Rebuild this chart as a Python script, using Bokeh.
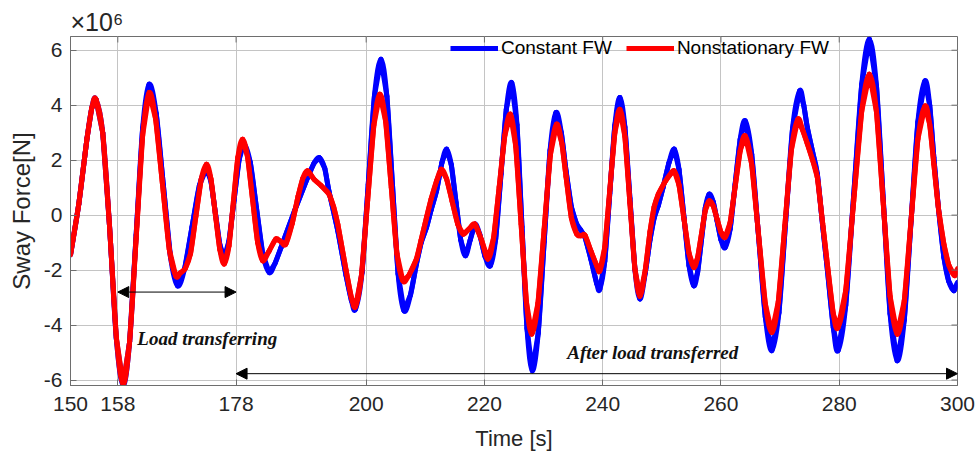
import numpy as np
from bokeh.plotting import figure
from bokeh.models import (ColumnDataSource, FixedTicker, Label, Arrow, NormalHead, Range1d)
from bokeh.embed import file_html
from bokeh.resources import INLINE

# ---- data (force in units of 1e6 N) ----
t_const = [150, 151.4, 152.8, 153.6, 154.3, 155.45, 156.6, 157.75, 158.9, 160.0, 161.1, 162.2,
           163.3, 164.5, 165.7, 166.9, 168.1, 169.3, 170.55, 171.8, 173.0, 173.75, 174.5, 175.25,
           176.0, 176.8, 177.65, 178.5, 179.3, 180.4, 181.45, 182.5, 183.6, 184.6, 185.6, 187.9,
           190.1, 191.2, 192.1, 193.0, 193.7, 195.2, 196.6, 197.5, 198.2, 199.3, 200.35, 201.4,
           202.5, 203.5, 204.45, 205.4, 206.4, 207.5, 208.5, 209.3, 210.2, 211.0, 211.9, 212.8,
           213.6, 214.4, 215.2, 216.0, 216.8, 217.6, 218.4, 219.2, 220.1, 221.0, 221.9, 222.8,
           223.7, 224.6, 225.5, 226.35, 227.2, 228.1, 229.1, 230.1, 231.1, 232.1, 233.0, 233.8,
           234.7, 235.6, 236.3, 237.0, 238.0, 239.0, 239.5, 240.35, 241.2, 242.05, 242.9, 243.75,
           244.6, 245.45, 246.3, 247.2, 248.0, 248.7, 249.4, 250.2, 251.2, 252.1, 252.9, 253.75,
           254.6, 255.4, 256.05, 256.7, 257.35, 258.0, 258.7, 259.35, 260.0, 260.7, 261.55, 262.4,
           263.25, 264.1, 265.2, 266.35, 267.5, 268.6, 269.8, 270.95, 272.1, 273.3, 274.0, 274.6,
           275.5, 276.3, 277.2, 278.0, 279.0, 279.8, 281.1, 282.45, 283.8, 285.1, 286.3, 287.45,
           288.6, 289.8, 291.0, 292.15, 293.3, 294.5, 295.3, 296.0, 296.8, 297.7, 298.5, 299.4,
           300.0]
f_const = [-1.45, 0.4, 2.8, 3.9, 4.22, 3.0, -0.4, -4.5, -6.2, -4.6, -0.72, 3.16,
           4.76, 3.69, 1.1, -1.5, -2.57, -1.95, -0.43, 1.08, 1.7, 1.23, 0.08, -1.07,
           -1.54, -0.94, 0.53, 2.0, 2.6, 1.92, 0.26, -1.4, -2.09, -1.75, -1.18, 0.16,
           1.37, 1.9, 2.09, 1.7, 0.88, -0.57, -2.2, -3.1, -3.42, -2.09, 1.12, 4.34,
           5.67, 4.33, 1.1, -2.14, -3.48, -2.9, -1.78, -1.0, -0.45, 0.2, 0.88, 1.9,
           2.4, 1.83, 0.46, -0.91, -1.48, -0.9, -0.33, -0.7, -1.5, -1.84, -0.87, 1.49,
           3.85, 4.82, 3.29, -0.42, -4.13, -5.66, -4.29, -0.97, 2.36, 3.73, 3.0, 1.61,
           0.3, -0.33, -0.55, -0.8, -1.6, -2.5, -2.7, -1.68, 0.79, 3.26, 4.28, 3.21,
           0.62, -1.98, -3.05, -2.1, -0.9, -0.1, 0.35, 1.0, 1.9, 2.4, 1.67, -0.09,
           -1.84, -2.57, -2.08, -0.9, 0.27, 0.76, 0.48, -0.21, -0.9, -1.18, -0.51, 1.13,
           2.76, 3.43, 2.21, -0.75, -3.71, -4.93, -3.55, -0.2, 3.14, 4.52, 4.0, 3.19,
           2.3, 1.5, -0.4, -2.0, -4.1, -4.93, -3.28, 0.74, 4.75, 6.4, 4.69, 0.55,
           -3.59, -5.3, -3.81, -0.21, 3.39, 4.88, 4.0, 2.1, 0.2, -1.54, -2.4, -2.75,
           -2.45]

t_nonst = [150, 151.4, 152.8, 153.6, 154.3, 155.45, 156.6, 157.75, 158.9, 160.0, 161.1, 162.2,
           163.3, 164.4, 165.55, 166.7, 167.8, 168.6, 169.4, 170.3, 171.2, 172.1, 173.0, 173.75,
           174.5, 175.25, 176.0, 176.8, 177.55, 178.3, 179.1, 179.95, 180.8, 181.65, 182.5, 183.6,
           184.7, 185.5, 186.4, 187.5, 188.5, 189.3, 190.1, 191.2, 192.4, 193.7, 194.5, 195.2,
           196.6, 197.5, 198.2, 199.2, 200.25, 201.3, 202.3, 203.3, 204.25, 205.2, 206.2, 207.2,
           208.5, 209.3, 210.2, 211.0, 211.9, 212.7, 213.6, 214.55, 215.5, 216.4, 217.4, 218.4,
           219.5, 220.6, 221.55, 222.5, 223.45, 224.4, 225.3, 226.2, 227.1, 228.0, 229.05, 230.1,
           231.15, 232.2, 233.1, 233.8, 234.7, 235.6, 236.3, 237.0, 238.0, 239.0, 239.5, 240.35,
           241.2, 242.05, 242.9, 243.75, 244.6, 245.45, 246.3, 247.2, 248.0, 248.7, 249.4, 250.5,
           251.3, 252.1, 252.9, 253.75, 254.6, 255.4, 256.05, 256.7, 257.35, 258.0, 258.7, 259.35,
           260.0, 260.7, 261.55, 262.4, 263.25, 264.1, 265.2, 266.35, 267.5, 268.6, 269.7, 270.8,
           271.9, 273.0, 273.8, 274.6, 275.5, 276.3, 277.2, 278.0, 279.0, 279.8, 281.1, 282.45,
           283.8, 285.1, 286.3, 287.45, 288.6, 289.8, 291.0, 292.15, 293.3, 294.5, 295.3, 296.0,
           296.8, 297.7, 298.5, 299.5, 300.0]
f_nonst = [-1.45, 0.4, 2.8, 3.9, 4.22, 3.0, -0.4, -4.45, -6.15, -4.6, -0.85, 2.9,
           4.46, 3.49, 1.13, -1.24, -2.21, -2.1, -1.95, -1.4, -0.05, 1.3, 1.85, 1.32,
           0.03, -1.25, -1.78, -1.12, 0.49, 2.1, 2.76, 2.11, 0.55, -1.0, -1.66, -1.3,
           -0.87, -0.95, -1.06, -0.3, 0.7, 1.35, 1.61, 1.3, 1.07, 0.77, 0.3, -0.33,
           -2.0, -3.0, -3.33, -2.2, 0.53, 3.27, 4.4, 3.41, 1.0, -1.4, -2.39, -2.2,
           -1.6, -0.9, -0.09, 0.6, 1.24, 1.67, 1.32, 0.49, -0.34, -0.69, -0.5, -0.33,
           -0.9, -1.6, -0.83, 1.03, 2.9, 3.67, 2.5, -0.33, -3.16, -4.33, -3.21, -0.51,
           2.19, 3.31, 2.6, 1.4, -0.1, -0.69, -0.75, -0.73, -1.3, -1.85, -2.03, -1.17,
           0.91, 2.99, 3.85, 2.86, 0.45, -1.96, -2.95, -2.0, -0.6, 0.3, 0.76, 1.2,
           1.45, 1.61, 1.1, -0.15, -1.39, -1.9, -1.55, -0.69, 0.17, 0.52, 0.33, -0.15,
           -0.62, -0.81, -0.27, 1.04, 2.34, 2.88, 1.84, -0.7, -3.23, -4.27, -3.14, -0.39,
           2.36, 3.49, 3.1, 2.6, 2.0, 1.37, -0.3, -1.8, -3.6, -4.09, -2.74, 0.52,
           3.78, 5.13, 3.75, 0.4, -2.95, -4.33, -3.12, -0.18, 2.76, 3.97, 3.3, 1.85,
           0.2, -1.06, -1.8, -2.2, -1.95]

x_ticks = [150, 158, 178, 200, 220, 240, 260, 280, 300]
y_ticks = [-6, -4, -2, 0, 2, 4, 6]
series_names = ["Constant FW", "Nonstationary FW"]
series_colors = ["#0000ff", "#ff0000"]
annotation_texts = ["Load transferring", "After load transferred"]

X0, X1 = 150, 300
Y0, Y1 = -6.2, 6.5

FONT = "Liberation Sans"
TXT = "#262626"
FRAME = "#6e6e6e"


def smooth_segments(t, f):
    """Catmull-Rom drawing: each pair of read points is joined by a cubic Bezier
    that passes through both read points (rendering only, no new data points)."""
    t = np.asarray(t, float)
    f = np.asarray(f, float)
    tp = np.concatenate([[t[0]], t, [t[-1]]])
    fp = np.concatenate([[f[0]], f, [f[-1]]])
    i = np.arange(len(t) - 1) + 1
    return dict(
        x0=tp[i], y0=fp[i], x1=tp[i + 1], y1=fp[i + 1],
        cx0=tp[i] + (tp[i + 1] - tp[i - 1]) / 6, cy0=fp[i] + (fp[i + 1] - fp[i - 1]) / 6,
        cx1=tp[i + 1] - (tp[i + 2] - tp[i]) / 6, cy1=fp[i + 1] - (fp[i + 2] - fp[i]) / 6,
    )


p = figure(width=978, height=459, output_backend="svg", toolbar_location=None,
           x_range=Range1d(X0, X1), y_range=Range1d(Y0, Y1),
           min_border_left=70, min_border_right=21, min_border_top=36, min_border_bottom=74)
p.background_fill_color = "white"
p.border_fill_color = "white"
p.outline_line_color = FRAME
p.outline_line_width = 1

# multiplier shown as title (x10^6)
p.title.text = "\u00d710\u2076"
p.title.text_font = FONT
p.title.text_font_size = "25px"
p.title.text_font_style = "normal"
p.title.text_color = TXT
p.title.align = "left"
p.title.standoff = 2

# grids
p.xgrid.ticker = FixedTicker(ticks=x_ticks)
p.ygrid.ticker = FixedTicker(ticks=y_ticks)
for g in (p.xgrid[0], p.ygrid[0]):
    g.grid_line_color = "#c4c4c4"
    g.grid_line_width = 1

# series: read points joined by a line (also gives the legend sample),
# overdrawn by the smooth curve through the same points
for t, f, name, col in ((t_const, f_const, series_names[0], series_colors[0]),
                        (t_nonst, f_nonst, series_names[1], series_colors[1])):
    p.line(t, f, line_color=col, line_width=5, line_join="round", legend_label=name)
    p.bezier(x0="x0", y0="y0", x1="x1", y1="y1", cx0="cx0", cy0="cy0", cx1="cx1", cy1="cy1",
             source=ColumnDataSource(smooth_segments(t, f)),
             line_color=col, line_width=5, line_cap="round")

lg = p.legend[0]
lg.orientation = "horizontal"
lg.location = (380, 326)
lg.background_fill_alpha = 0
lg.border_line_alpha = 0
lg.padding = 0
lg.margin = 0
lg.spacing = 14
lg.glyph_width = 48
lg.glyph_height = 20
lg.label_standoff = 3
lg.label_text_font = FONT
lg.label_text_font_size = "19px"
lg.label_text_color = "#000000"

# axes
for ax in (p.xaxis[0], p.yaxis[0]):
    ax.major_tick_in = 6
    ax.major_tick_out = 0
    ax.minor_tick_in = 0
    ax.minor_tick_out = 0
    ax.axis_line_color = FRAME
    ax.major_tick_line_color = FRAME
    ax.major_label_text_font = FONT
    ax.major_label_text_font_size = "21px"
    ax.major_label_text_color = TXT
    ax.axis_label_text_font = FONT
    ax.axis_label_text_font_style = "normal"
    ax.axis_label_text_color = TXT

p.xaxis[0].ticker = FixedTicker(ticks=x_ticks)
p.yaxis[0].ticker = FixedTicker(ticks=y_ticks)
p.xaxis[0].major_label_overrides = {v: str(v) for v in x_ticks}
p.yaxis[0].major_label_overrides = {v: str(v) for v in y_ticks}
p.xaxis[0].axis_label = "Time [s]"
p.yaxis[0].axis_label = "Sway Force[N]"
p.xaxis[0].axis_label_text_font_size = "22px"
p.yaxis[0].axis_label_text_font_size = "24px"
p.xaxis[0].major_label_standoff = 11
p.yaxis[0].major_label_standoff = 8
p.yaxis[0].axis_label_standoff = 6
p.xaxis[0].axis_label_standoff = 12

# mirrored inward ticks on top and right edges
tick_len_y = 6 / 27.5
tick_len_x = 6 / 5.9
p.segment(x0=x_ticks, y0=[Y1] * len(x_ticks), x1=x_ticks, y1=[Y1 - tick_len_y] * len(x_ticks),
          line_color=FRAME, line_width=1)
p.segment(x0=[X1] * len(y_ticks), y0=y_ticks, x1=[X1 - tick_len_x] * len(y_ticks), y1=y_ticks,
          line_color=FRAME, line_width=1)

# annotations
p.add_layout(Arrow(start=NormalHead(size=11, fill_color="black", line_color="black"),
                   end=NormalHead(size=11, fill_color="black", line_color="black"),
                   x_start=158, y_start=-2.8, x_end=178, y_end=-2.8,
                   line_color="black", line_width=1))
p.add_layout(Arrow(start=NormalHead(size=11, fill_color="black", line_color="black"),
                   end=NormalHead(size=11, fill_color="black", line_color="black"),
                   x_start=178, y_start=-5.77, x_end=300, y_end=-5.77,
                   line_color="black", line_width=1))
p.add_layout(Label(x=161.3, y=-4.5, text=annotation_texts[0], text_font="Liberation Serif",
                   text_font_style="bold italic", text_font_size="19px", text_color="#111111",
                   text_baseline="middle"))
p.add_layout(Label(x=234.0, y=-5.0, text=annotation_texts[1], text_font="Liberation Serif",
                   text_font_style="bold italic", text_font_size="19px", text_color="#111111",
                   text_baseline="middle"))

open("out.html", "w").write(file_html(p, INLINE))
